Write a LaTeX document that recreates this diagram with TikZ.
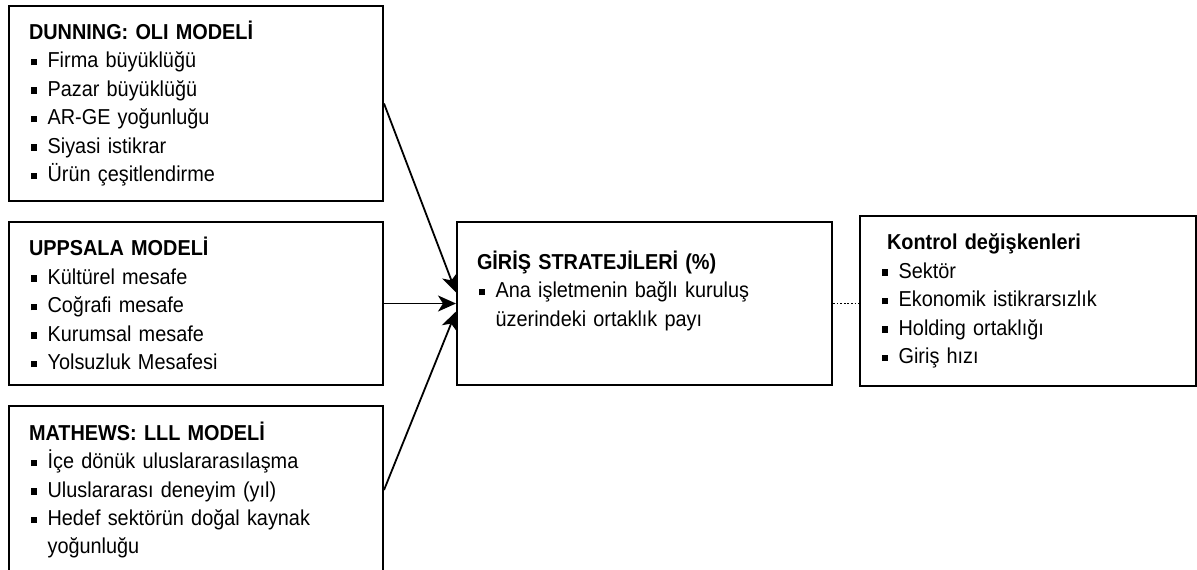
\documentclass[tikz,border=0pt]{standalone}
\usepackage{fontspec}
\setmainfont{Liberation Sans}[FakeStretch=0.92]
\usepackage{tikz}
\usetikzlibrary{arrows.meta, calc}
\newcommand{\blt}[1]{\par\hangindent=9.3pt\hangafter=1\noindent\makebox[9.3pt][l]{\hspace{1pt}\rule[1.2pt]{3.2pt}{3.2pt}}#1\par}
\tikzset{
	defaultbox/.style={
			draw=black,
			line width=1pt,
			rectangle,
			anchor=north west,
			align=left,
			inner xsep=10pt,
			inner ysep=0pt,
			font=\fontsize{10.8}{14.2}\selectfont
		},
	modelbox/.style={
			defaultbox,
			text width=167pt
		},
	arrowline/.style={
			line width=0.9pt,
			-{Stealth[length=9pt,width=8pt,inset=2.5pt]}
		},
	dotline/.style={
			line width=0.9pt,
			dash pattern=on 0.9pt off 0.9pt
		}
}

\begin{document}
\begin{tikzpicture}[x=0.5pt,y=-0.5pt]
\clip (0,0) rectangle (1197,569);

\node[modelbox, minimum height=97.5pt] (tDun) at (8,5) {\textbf{DUNNING: OLI MODELİ}
	\blt{Firma büyüklüğü}
	\blt{Pazar büyüklüğü}
	\blt{AR-GE yoğunluğu}
	\blt{Siyasi istikrar}
	\blt{Ürün çeşitlendirme}};
\node[modelbox, minimum height=81.5pt] (tUpp) at (8,221) {\textbf{UPPSALA MODELİ}
	\blt{Kültürel mesafe}
	\blt{Coğrafi mesafe}
	\blt{Kurumsal mesafe}
	\blt{Yolsuzluk Mesafesi}};
\node[modelbox, minimum height=84pt] (tMat) at (8,405) {\textbf{MATHEWS: LLL MODELİ}
	\blt{İçe dönük uluslararasılaşma}
	\blt{Uluslararası deneyim (yıl)}
	\blt{Hedef sektörün doğal kaynak\newline yoğunluğu}};
\node[defaultbox, text width=167.5pt, minimum height=81.5pt, text depth=43.5pt] (tGir) at (456,221) {\textbf{GİRİŞ STRATEJİLERİ (\%)}
	\blt{Ana işletmenin bağlı kuruluş\newline üzerindeki ortaklık payı}};
\node[defaultbox, text width=148pt, minimum height=85pt] (tKon) at (859,215) {\hspace*{3.5pt}\textbf{Kontrol değişkenleri}
	\blt{Sektör}
	\blt{Ekonomik istikrarsızlık}
	\blt{Holding ortaklığı}
	\blt{Giriş hızı}};

\draw[arrowline] (tDun.east) -- ([yshift=5.5pt]tGir.west);
\draw[arrowline] (tUpp.east) -- (tGir.west);
\draw[arrowline] (tMat.east) -- ([yshift=-4pt]tGir.west);
\draw[dotline] (tGir.east) -- (tGir.east -| tKon.west);
\end{tikzpicture}
\end{document}
